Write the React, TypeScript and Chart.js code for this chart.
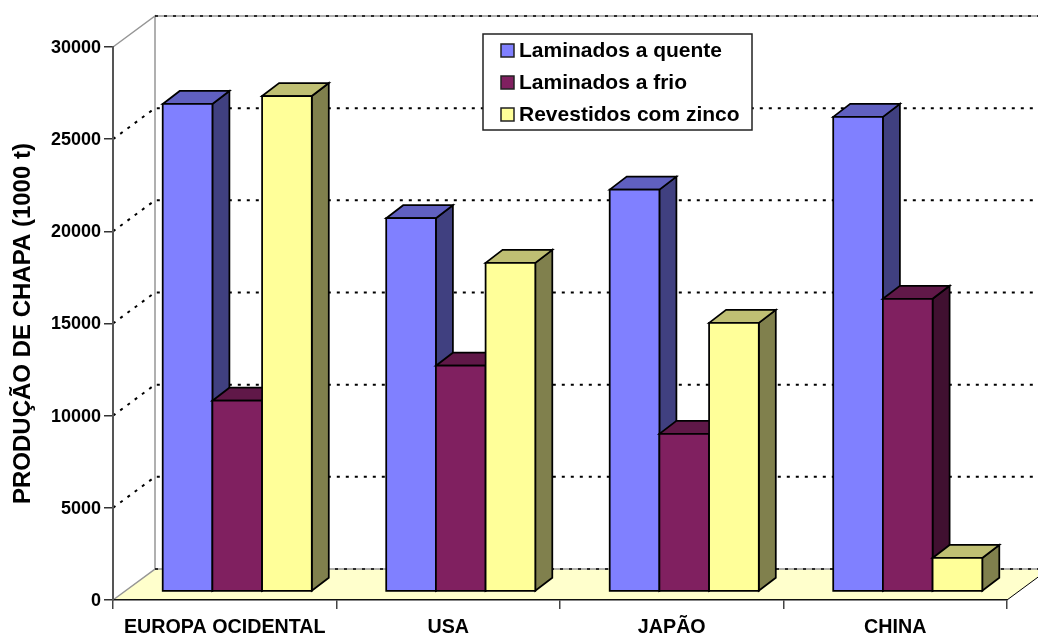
import React, { useEffect, useRef } from "react";
import { Chart, registerables } from "chart.js";

Chart.register(...registerables);

const categories = ["EUROPA OCIDENTAL", "USA", "JAPÃO", "CHINA"];
const seriesNames = ["Laminados a quente", "Laminados a frio", "Revestidos com zinco"];
const hotRolled = [26450, 20250, 21800, 25750];
const coldRolled = [10350, 12250, 8550, 15880];
const zincCoated = [26880, 17830, 14570, 1820];
const frontColors = ["#8080FF", "#802060", "#FFFF99"];
const sideColors = ["#404080", "#401030", "#80804D"];
const topColors = ["#6060C0", "#601848", "#BFBF73"];
const yTicks = [0, 5000, 10000, 15000, 20000, 25000, 30000];

const FONT = '"Liberation Sans", Arial, sans-serif';
// Projection offsets of the pseudo-3D box
const WALL_DX = 42;
const WALL_DY = -31;
const BAR_DX = 12.5;
const BAR_DY = -8.5;
const BAR_DEPTH_X = 17;
const BAR_DEPTH_Y = -13;

function poly(ctx: CanvasRenderingContext2D, pts: number[][], fill: string) {
  ctx.beginPath();
  pts.forEach(([x, y], i) => (i ? ctx.lineTo(x, y) : ctx.moveTo(x, y)));
  ctx.closePath();
  ctx.fillStyle = fill;
  ctx.fill();
  ctx.stroke();
}

// Floor, side wall and back-wall gridlines, painted under the axes
const wallsPlugin = {
  id: "walls",
  beforeDraw(chart: any) {
    const { ctx, chartArea: a, scales } = chart;
    const y = scales.y;
    const farRight = a.right + WALL_DX;
    const y0 = y.getPixelForValue(0);
    const yTop = y.getPixelForValue(30000);
    ctx.save();
    ctx.beginPath();
    ctx.moveTo(a.left, y0);
    ctx.lineTo(a.right, y0);
    ctx.lineTo(farRight, y0 + WALL_DY);
    ctx.lineTo(a.left + WALL_DX, y0 + WALL_DY);
    ctx.closePath();
    ctx.fillStyle = "#FFFFCC";
    ctx.fill();

    ctx.strokeStyle = "#000";
    ctx.lineWidth = 1;
    ctx.beginPath();
    ctx.moveTo(a.right, y0);
    ctx.lineTo(farRight, y0 + WALL_DY);
    ctx.stroke();

    ctx.strokeStyle = "#969696";
    ctx.lineWidth = 1.5;
    ctx.beginPath();
    ctx.moveTo(a.left, y0);
    ctx.lineTo(a.left + WALL_DX, y0 + WALL_DY);
    ctx.lineTo(a.left + WALL_DX, yTop + WALL_DY);
    ctx.lineTo(a.left, yTop);
    ctx.moveTo(a.left + WALL_DX, y0 + WALL_DY);
    ctx.lineTo(farRight, y0 + WALL_DY);
    ctx.moveTo(a.left + WALL_DX, yTop + WALL_DY);
    ctx.lineTo(farRight, yTop + WALL_DY);
    ctx.stroke();

    ctx.strokeStyle = "#000";
    ctx.setLineDash([3, 6]);
    for (const v of yTicks) {
      const py = y.getPixelForValue(v);
      const edge = v === 0 || v === 30000;
      ctx.lineWidth = edge ? 1.5 : 2;
      ctx.beginPath();
      if (edge) {
        ctx.moveTo(a.left + WALL_DX, py + WALL_DY);
      } else {
        ctx.moveTo(a.left, py);
        ctx.lineTo(a.left + WALL_DX, py + WALL_DY);
      }
      ctx.lineTo(farRight, py + WALL_DY);
      ctx.stroke();
    }
    ctx.restore();
  },
};

// Draws each bar as a box: front face from the bar element, then side and top
const boxBarsPlugin = {
  id: "boxBars",
  beforeDatasetsDraw(chart: any) {
    const { ctx } = chart;
    ctx.save();
    ctx.strokeStyle = "#000";
    ctx.lineWidth = 1.75;
    ctx.lineJoin = "miter";
    categories.forEach((_, c) => {
      chart.data.datasets.forEach((_ds: any, s: number) => {
        const el = chart.getDatasetMeta(s).data[c];
        const l = el.x - el.width / 2 + BAR_DX;
        const r = el.x + el.width / 2 + BAR_DX;
        const t = el.y + BAR_DY;
        const b = el.base + BAR_DY;
        const dx = BAR_DEPTH_X;
        const dy = BAR_DEPTH_Y;
        poly(ctx, [[r, t], [r + dx, t + dy], [r + dx, b + dy], [r, b]], sideColors[s]);
        poly(ctx, [[l, t], [l + dx, t + dy], [r + dx, t + dy], [r, t]], topColors[s]);
        poly(ctx, [[l, t], [r, t], [r, b], [l, b]], frontColors[s]);
      });
    });
    ctx.restore();
    return false;
  },
};

// Boxed legend placed inside the plot
const legendBoxPlugin = {
  id: "legendBox",
  afterDraw(chart: any) {
    const { ctx } = chart;
    ctx.save();
    ctx.fillStyle = "#fff";
    ctx.strokeStyle = "#222";
    ctx.lineWidth = 1.5;
    ctx.fillRect(483, 34, 269, 96);
    ctx.strokeRect(483, 34, 269, 96);
    ctx.font = `bold 21px ${FONT}`;
    ctx.textBaseline = "middle";
    chart.data.datasets.forEach((ds: any, i: number) => {
      const cy = 50.5 + i * 32;
      ctx.fillStyle = frontColors[i];
      ctx.strokeStyle = "#222";
      ctx.fillRect(501, cy - 6.5, 13, 13);
      ctx.strokeRect(501, cy - 6.5, 13, 13);
      ctx.fillStyle = "#000";
      ctx.fillText(ds.label, 519, cy + 0.5);
    });
    ctx.restore();
  },
};

export default function App() {
  const ref = useRef<HTMLCanvasElement>(null);
  useEffect(() => {
    document.body.style.margin = "0";
    const chart = new Chart(ref.current!, {
      type: "bar",
      data: {
        labels: categories,
        datasets: [hotRolled, coldRolled, zincCoated].map((data, i) => ({
          label: seriesNames[i],
          data,
          backgroundColor: frontColors[i],
          categoryPercentage: 0.667,
          barPercentage: 1,
        })),
      },
      options: {
        responsive: false,
        animation: false,
        events: [],
        layout: { padding: { top: 47, right: 31, left: 0, bottom: 0 } },
        plugins: { legend: { display: false }, title: { display: false }, tooltip: { enabled: false } },
        scales: {
          x: {
            afterFit: (s: any) => { s.height = 34; },
            grid: { offset: true, drawOnChartArea: false, color: "#444", tickLength: 9, lineWidth: 1.5 },
            border: { color: "#111", width: 1.5 },
            ticks: {
              autoSkip: false,
              maxRotation: 0,
              padding: 7,
              color: "#000",
              font: { family: FONT, weight: "bold", size: 19.7 },
            },
          },
          y: {
            min: 0,
            max: 30000,
            afterFit: (s: any) => { s.width = 113; },
            grid: { drawOnChartArea: false, color: "#333", tickLength: 9, lineWidth: 1.5 },
            border: { color: "#555", width: 2 },
            title: {
              display: true,
              text: "PRODUÇÃO DE CHAPA (1000 t)",
              color: "#000",
              padding: { top: 9, bottom: 0 },
              font: { family: FONT, weight: "bold", size: 24 },
            },
            ticks: {
              stepSize: 5000,
              padding: 3,
              labelOffset: 1,
              color: "#000",
              font: { family: FONT, weight: "bold", size: 18 },
              callback: (v: any) => String(v),
            },
          },
        },
      },
      plugins: [wallsPlugin, boxBarsPlugin, legendBoxPlugin],
    } as any);
    return () => chart.destroy();
  }, []);
  return <canvas ref={ref} width={1038} height={634} style={{ display: "block" }} />;
}
